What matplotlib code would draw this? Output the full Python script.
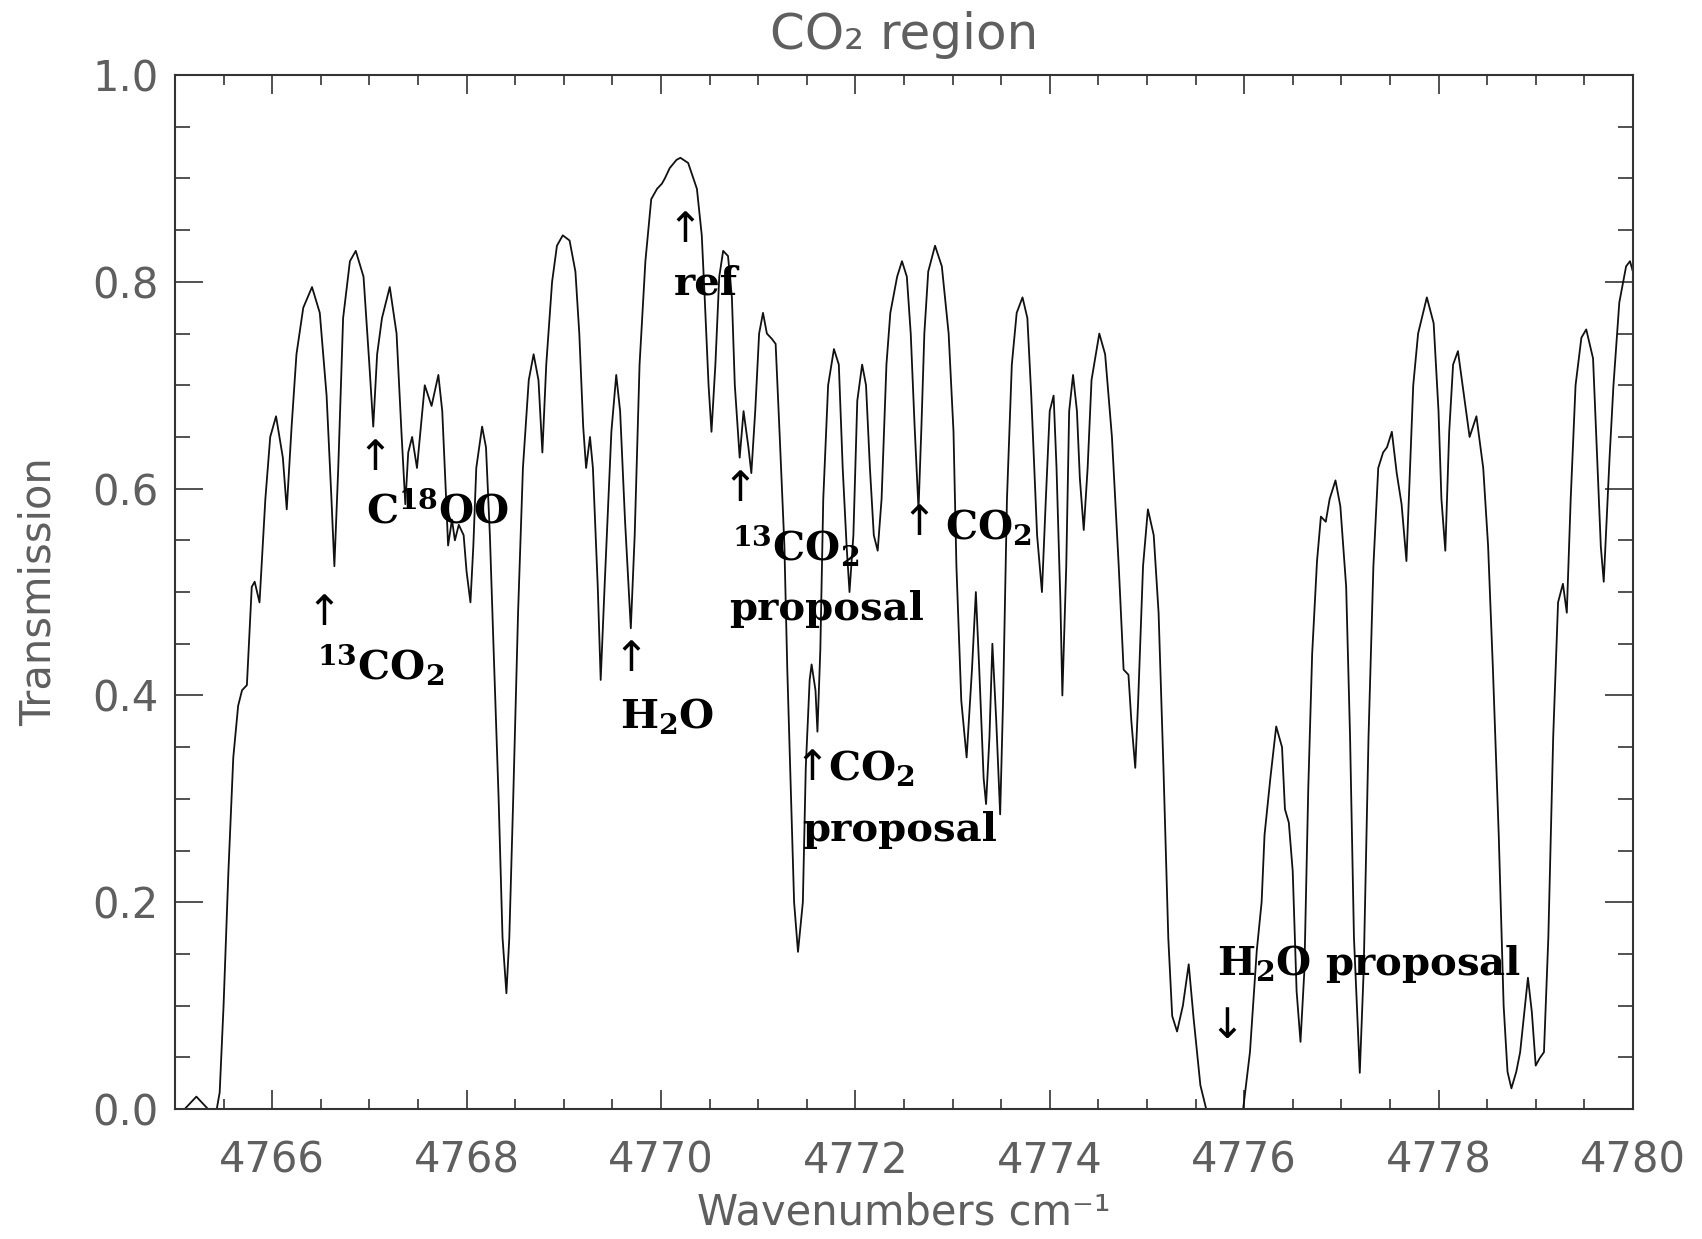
import matplotlib
matplotlib.use("Agg")
import matplotlib.pyplot as plt
from matplotlib.ticker import MultipleLocator

# transmission spectrum sampled along the CO2 band (wavenumber in cm^-1)
wavenumber = [
    4765.00, 4765.10, 4765.22, 4765.34, 4765.43, 4765.46, 4765.50, 4765.55,
    4765.60, 4765.65, 4765.69, 4765.74, 4765.79, 4765.82, 4765.87, 4765.93,
    4765.98, 4766.04, 4766.11, 4766.15, 4766.20, 4766.25, 4766.32, 4766.41,
    4766.49, 4766.56, 4766.61, 4766.64, 4766.68, 4766.73, 4766.80, 4766.86,
    4766.94, 4767.00, 4767.04, 4767.08, 4767.13, 4767.21, 4767.28, 4767.33,
    4767.37, 4767.40, 4767.44, 4767.49, 4767.52, 4767.57, 4767.64, 4767.71,
    4767.75, 4767.79, 4767.81, 4767.85, 4767.88, 4767.92, 4767.97, 4768.00,
    4768.04, 4768.07, 4768.10, 4768.16, 4768.20, 4768.24, 4768.28, 4768.33,
    4768.37, 4768.41, 4768.44, 4768.48, 4768.53, 4768.58, 4768.64, 4768.69,
    4768.74, 4768.78, 4768.82, 4768.88, 4768.93, 4768.99, 4769.06, 4769.12,
    4769.16, 4769.20, 4769.23, 4769.27, 4769.30, 4769.35, 4769.38, 4769.42,
    4769.49, 4769.54, 4769.58, 4769.63, 4769.69, 4769.73, 4769.78, 4769.84,
    4769.90, 4769.96, 4770.01, 4770.04, 4770.09, 4770.16, 4770.20, 4770.28,
    4770.37, 4770.42, 4770.45, 4770.49, 4770.52, 4770.56, 4770.60, 4770.64,
    4770.69, 4770.73, 4770.76, 4770.81, 4770.85, 4770.90, 4770.93, 4770.97,
    4771.01, 4771.05, 4771.09, 4771.14, 4771.18, 4771.22, 4771.27, 4771.30,
    4771.34, 4771.37, 4771.41, 4771.46, 4771.49, 4771.53, 4771.55, 4771.59,
    4771.61, 4771.64, 4771.67, 4771.72, 4771.78, 4771.83, 4771.87, 4771.91,
    4771.94, 4771.98, 4772.02, 4772.07, 4772.11, 4772.15, 4772.19, 4772.23,
    4772.27, 4772.32, 4772.36, 4772.43, 4772.48, 4772.53, 4772.57, 4772.61,
    4772.65, 4772.68, 4772.71, 4772.75, 4772.82, 4772.89, 4772.96, 4773.01,
    4773.04, 4773.09, 4773.145, 4773.20, 4773.24, 4773.275, 4773.32, 4773.345,
    4773.38, 4773.41, 4773.45, 4773.49, 4773.52, 4773.56, 4773.61, 4773.66,
    4773.72, 4773.77, 4773.81, 4773.87, 4773.92, 4773.96, 4774.00, 4774.04,
    4774.07, 4774.11, 4774.13, 4774.17, 4774.20, 4774.24, 4774.28, 4774.31,
    4774.35, 4774.39, 4774.43, 4774.51, 4774.57, 4774.64, 4774.71, 4774.76,
    4774.81, 4774.84, 4774.88, 4774.91, 4774.96, 4775.01, 4775.07, 4775.12,
    4775.17, 4775.22, 4775.26, 4775.31, 4775.37, 4775.43, 4775.48, 4775.55,
    4775.61, 4775.72, 4775.82, 4775.94, 4775.99, 4776.06, 4776.13, 4776.18,
    4776.21, 4776.27, 4776.33, 4776.39, 4776.42, 4776.46, 4776.50, 4776.54,
    4776.58, 4776.62, 4776.66, 4776.70, 4776.75, 4776.79, 4776.84, 4776.88,
    4776.94, 4776.99, 4777.05, 4777.09, 4777.13, 4777.19, 4777.23, 4777.28,
    4777.33, 4777.38, 4777.43, 4777.47, 4777.52, 4777.57, 4777.62, 4777.67,
    4777.74, 4777.79, 4777.88, 4777.95, 4778.00, 4778.03, 4778.07, 4778.11,
    4778.15, 4778.20, 4778.255, 4778.32, 4778.39, 4778.46, 4778.51, 4778.56,
    4778.62, 4778.67, 4778.71, 4778.75, 4778.80, 4778.84, 4778.89, 4778.92,
    4778.96, 4779.00, 4779.04, 4779.085, 4779.13, 4779.18, 4779.23, 4779.28,
    4779.32, 4779.36, 4779.41, 4779.47, 4779.52, 4779.59, 4779.63, 4779.67,
    4779.70, 4779.73, 4779.76, 4779.80, 4779.86, 4779.93, 4779.97, 4780.00,
]
transmission = [
    0.000, 0.000, 0.012, 0.000, 0.000, 0.016, 0.100, 0.230,
    0.340, 0.390, 0.405, 0.410, 0.505, 0.510, 0.490, 0.590,
    0.650, 0.670, 0.630, 0.580, 0.660, 0.730, 0.775, 0.795,
    0.770, 0.690, 0.590, 0.525, 0.620, 0.765, 0.820, 0.830,
    0.805, 0.720, 0.660, 0.730, 0.765, 0.795, 0.750, 0.655,
    0.585, 0.635, 0.650, 0.620, 0.650, 0.700, 0.680, 0.710,
    0.675, 0.590, 0.545, 0.570, 0.550, 0.565, 0.555, 0.520,
    0.490, 0.545, 0.620, 0.660, 0.640, 0.555, 0.440, 0.300,
    0.166, 0.112, 0.166, 0.300, 0.480, 0.620, 0.705, 0.730,
    0.705, 0.635, 0.720, 0.800, 0.835, 0.845, 0.840, 0.810,
    0.750, 0.660, 0.620, 0.650, 0.620, 0.505, 0.415, 0.505,
    0.655, 0.710, 0.675, 0.570, 0.465, 0.555, 0.720, 0.820,
    0.880, 0.890, 0.895, 0.900, 0.910, 0.918, 0.920, 0.915,
    0.890, 0.845, 0.785, 0.700, 0.655, 0.720, 0.805, 0.830,
    0.825, 0.785, 0.700, 0.630, 0.675, 0.640, 0.615, 0.675,
    0.750, 0.770, 0.750, 0.745, 0.740, 0.655, 0.545, 0.425,
    0.295, 0.200, 0.152, 0.200, 0.330, 0.415, 0.430, 0.405,
    0.365, 0.445, 0.590, 0.700, 0.735, 0.720, 0.620, 0.545,
    0.500, 0.555, 0.685, 0.720, 0.700, 0.620, 0.555, 0.540,
    0.590, 0.720, 0.770, 0.805, 0.820, 0.805, 0.750, 0.660,
    0.580, 0.660, 0.750, 0.810, 0.835, 0.815, 0.750, 0.655,
    0.525, 0.395, 0.340, 0.425, 0.500, 0.425, 0.320, 0.295,
    0.360, 0.450, 0.375, 0.285, 0.395, 0.590, 0.720, 0.770,
    0.785, 0.765, 0.690, 0.555, 0.500, 0.590, 0.675, 0.690,
    0.620, 0.490, 0.400, 0.525, 0.675, 0.710, 0.675, 0.610,
    0.560, 0.620, 0.705, 0.750, 0.730, 0.650, 0.525, 0.425,
    0.420, 0.375, 0.330, 0.395, 0.525, 0.580, 0.555, 0.480,
    0.330, 0.165, 0.090, 0.075, 0.100, 0.140, 0.088, 0.023,
    0.000, 0.000, 0.000, 0.000, 0.000, 0.055, 0.153, 0.200,
    0.265, 0.320, 0.370, 0.350, 0.290, 0.277, 0.230, 0.114,
    0.065, 0.134, 0.310, 0.440, 0.530, 0.573, 0.568, 0.590,
    0.608, 0.583, 0.505, 0.360, 0.166, 0.035, 0.134, 0.360,
    0.525, 0.620, 0.635, 0.640, 0.655, 0.615, 0.585, 0.530,
    0.700, 0.750, 0.785, 0.760, 0.675, 0.590, 0.540, 0.655,
    0.720, 0.733, 0.695, 0.650, 0.670, 0.620, 0.545, 0.425,
    0.264, 0.100, 0.036, 0.020, 0.036, 0.055, 0.100, 0.127,
    0.094, 0.042, 0.049, 0.055, 0.166, 0.360, 0.490, 0.508,
    0.480, 0.590, 0.700, 0.746, 0.754, 0.726, 0.635, 0.544,
    0.510, 0.570, 0.630, 0.700, 0.780, 0.815, 0.820, 0.810,
]

# (text, wavenumber, transmission) for the species labels
labels = [
    ("\u2191", 4766.53, 0.480), ("$^{13}$CO$_2$", 4766.46, 0.430),
    ("\u2191", 4767.06, 0.630), ("C$^{18}$OO", 4766.97, 0.578),
    ("\u2191", 4769.69, 0.435), ("H$_2$O", 4769.58, 0.380),
    ("\u2191", 4770.25, 0.850), ("ref", 4770.13, 0.798),
    ("\u2191", 4770.81, 0.600), ("$^{13}$CO$_2$", 4770.73, 0.545),
    ("proposal", 4770.70, 0.484),
    ("\u2191", 4771.55, 0.330), ("CO$_2$", 4771.72, 0.330),
    ("proposal", 4771.45, 0.270),
    ("\u2191", 4772.65, 0.567), ("CO$_2$", 4772.92, 0.563),
    ("H$_2$O proposal", 4775.72, 0.140), ("\u2193", 4775.82, 0.080),
]

axis_grey = "#5f5f5f"
plt.rcParams["font.family"] = ["DejaVu Sans"]
plt.rcParams["mathtext.fontset"] = "dejavuserif"
plt.rcParams["mathtext.default"] = "bf"

fig = plt.figure(figsize=(17.02, 12.39), dpi=100)
ax = fig.add_axes([0.1028, 0.1049, 0.8566, 0.8345])

ax.plot(wavenumber, transmission, color="#111111", lw=1.3)

for text, x, y in labels:
    if text in ("\u2191", "\u2193"):
        ax.text(x, y, text, ha="center", va="center", fontsize=30,
                family="DejaVu Sans", color="black")
    else:
        ax.text(x, y, text, ha="left", va="center", fontsize=29,
                family="DejaVu Serif", fontweight="bold", color="black")

ax.set_xlim(4765, 4780)
ax.set_ylim(0, 1.0)
ax.xaxis.set_major_locator(MultipleLocator(2))
ax.xaxis.set_minor_locator(MultipleLocator(0.5))
ax.yaxis.set_major_locator(MultipleLocator(0.2))
ax.yaxis.set_minor_locator(MultipleLocator(0.05))
ax.yaxis.set_major_formatter(plt.FormatStrFormatter("%.1f"))

ax.tick_params(axis="both", which="both", direction="in", top=True, right=True,
               labelsize=30, labelcolor=axis_grey, color="#333333")
ax.tick_params(axis="x", which="major", length=14, width=1.2, pad=22)
ax.tick_params(axis="x", which="minor", length=7, width=1.2)
ax.tick_params(axis="y", which="major", length=20, width=1.2, pad=12)
ax.tick_params(axis="y", which="minor", length=11, width=1.2)
for side in ax.spines.values():
    side.set_linewidth(1.5)
    side.set_color("#333333")

ax.set_xlabel("Wavenumbers cm\u207b\u00b9", fontsize=30, color=axis_grey)
ax.set_ylabel("Transmission", fontsize=30, color=axis_grey)
ax.xaxis.set_label_coords(0.5, -0.08)
ax.yaxis.set_label_coords(-0.079, 0.5)
ax.text(0.5, 1.039, "CO\u2082 region", transform=ax.transAxes, ha="center",
        va="center", fontsize=36, color=axis_grey)

fig.canvas.draw()
yticks = ax.yaxis.get_major_ticks()
yticks[0].label1.set_va("bottom")
yticks[-1].label1.set_va("top")

fig.savefig("out.png", dpi=100, facecolor="white")
